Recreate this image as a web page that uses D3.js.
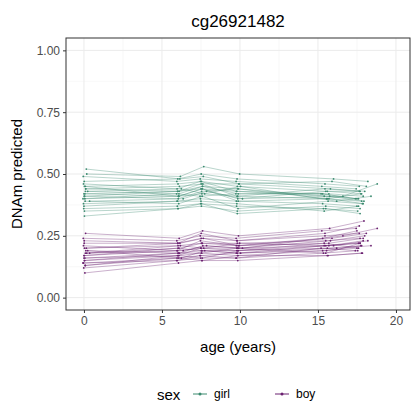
<!DOCTYPE html>
<html lang="en">
<head>
<meta charset="utf-8">
<script src="https://cdnjs.cloudflare.com/ajax/libs/d3/7.8.5/d3.min.js"></script>
<style>
  body { margin: 0; background: #fff; }
  text { font-family: "Liberation Sans", Arial, sans-serif; }
</style>
</head>
<body>
<div id="chart"></div>
<script>
const W = 420, H = 420;
const visitAges = [0, 6, 7.5, 9.8, 15.4, 17.6];
// per-subject age offsets from the visit mean
const ageShift = [0, 0.1, -0.1, 0.2, 0.05, -0.05, 0.3, 0.15, -0.15, 0.25, 0.4, 0.1,
                  -0.1, 0.2, 0.6, 0.0, 0.35, -0.2, 0.5, 0.1, 0.8, 0.05, 0.3, 1.2];
const xTicks = [0, 5, 10, 15, 20];
const yTicks = [0, 0.25, 0.5, 0.75, 1];

const girls = [
  [0.42, 0.43, 0.44, 0.43, 0.41, 0.40], [0.45, 0.46, 0.47, 0.45, 0.43, 0.43],
  [0.38, 0.39, 0.40, 0.39, 0.38, 0.37], [0.40, 0.41, 0.42, 0.41, 0.40, 0.39],
  [0.47, 0.48, 0.50, 0.48, 0.46, 0.45], [0.36, 0.37, 0.38, 0.37, 0.36, 0.35],
  [0.43, 0.42, 0.45, 0.42, 0.42, 0.41], [0.41, 0.40, 0.43, 0.44, 0.40, 0.42],
  [0.49, 0.47, 0.48, 0.47, 0.45, 0.44], [0.39, 0.38, 0.41, 0.36, 0.39, 0.38],
  [0.44, 0.45, 0.46, 0.46, 0.44, 0.43], [0.35, 0.36, 0.37, 0.35, 0.37, 0.36],
  [0.46, 0.44, 0.47, 0.43, 0.42, 0.40], [0.42, 0.41, 0.44, 0.40, 0.43, 0.42],
  [0.50, 0.49, 0.53, 0.50, 0.48, 0.47], [0.37, 0.39, 0.39, 0.38, 0.35, 0.37],
  [0.44, 0.43, 0.45, 0.44, 0.41, 0.39], [0.40, 0.42, 0.41, 0.42, 0.42, 0.40],
  [0.52, 0.48, 0.49, 0.46, 0.47, 0.45], [0.33, 0.36, 0.38, 0.34, 0.36, 0.34],
  [0.43, 0.44, 0.42, 0.45, 0.39, 0.41], [0.41, 0.43, 0.46, 0.41, 0.44, 0.43],
  [0.45, 0.41, 0.44, 0.39, 0.40, 0.38], [0.39, 0.40, 0.43, 0.40, 0.41, 0.46]
];
const boys = [
  [0.17, 0.19, 0.20, 0.20, 0.21, 0.22], [0.20, 0.21, 0.22, 0.22, 0.23, 0.24],
  [0.14, 0.16, 0.17, 0.18, 0.19, 0.20], [0.16, 0.18, 0.19, 0.19, 0.20, 0.21],
  [0.22, 0.22, 0.24, 0.23, 0.25, 0.26], [0.12, 0.15, 0.16, 0.16, 0.18, 0.19],
  [0.18, 0.20, 0.22, 0.21, 0.22, 0.24], [0.15, 0.17, 0.18, 0.17, 0.19, 0.21],
  [0.24, 0.23, 0.25, 0.24, 0.27, 0.28], [0.13, 0.16, 0.15, 0.17, 0.17, 0.18],
  [0.19, 0.18, 0.21, 0.20, 0.23, 0.25], [0.17, 0.20, 0.19, 0.18, 0.21, 0.22],
  [0.21, 0.19, 0.23, 0.21, 0.24, 0.27], [0.10, 0.14, 0.15, 0.15, 0.17, 0.18],
  [0.18, 0.21, 0.20, 0.22, 0.21, 0.23], [0.16, 0.17, 0.20, 0.19, 0.22, 0.20],
  [0.26, 0.24, 0.27, 0.25, 0.28, 0.31], [0.14, 0.15, 0.17, 0.16, 0.20, 0.19],
  [0.20, 0.22, 0.24, 0.21, 0.24, 0.26], [0.15, 0.18, 0.18, 0.20, 0.18, 0.22],
  [0.19, 0.16, 0.19, 0.18, 0.20, 0.21], [0.23, 0.22, 0.26, 0.23, 0.26, 0.29],
  [0.13, 0.17, 0.16, 0.19, 0.21, 0.23], [0.18, 0.19, 0.21, 0.20, 0.25, 0.28]
];
const series = [
  { name: "girl", color: "#3a8a6f", rows: girls },
  { name: "boy", color: "#6b2170", rows: boys }
];

const margin = { left: 66, right: 10, top: 38, bottom: 110 };
const svg = d3.select("#chart").append("svg").attr("width", W).attr("height", H);

const x = d3.scaleLinear().domain([-1.15, 20.9]).range([margin.left, W - margin.right]);
const y = d3.scaleLinear().domain([-0.05, 1.05]).range([H - margin.bottom, margin.top]);

// grid
const grid = svg.append("g");
const minorX = [2.5, 7.5, 12.5, 17.5], minorY = [0.125, 0.375, 0.625, 0.875];
grid.selectAll(".mx").data(minorX).enter().append("line")
  .attr("x1", d => x(d)).attr("x2", d => x(d)).attr("y1", y.range()[0]).attr("y2", y.range()[1])
  .attr("stroke", "#f0f0f0").attr("stroke-width", 0.5);
grid.selectAll(".my").data(minorY).enter().append("line")
  .attr("y1", d => y(d)).attr("y2", d => y(d)).attr("x1", x.range()[0]).attr("x2", x.range()[1])
  .attr("stroke", "#f0f0f0").attr("stroke-width", 0.5);
grid.selectAll(".gx").data(xTicks).enter().append("line")
  .attr("x1", d => x(d)).attr("x2", d => x(d)).attr("y1", y.range()[0]).attr("y2", y.range()[1])
  .attr("stroke", "#ebebeb").attr("stroke-width", 1);
grid.selectAll(".gy").data(yTicks).enter().append("line")
  .attr("y1", d => y(d)).attr("y2", d => y(d)).attr("x1", x.range()[0]).attr("x2", x.range()[1])
  .attr("stroke", "#ebebeb").attr("stroke-width", 1);

const line = d3.line().x(d => x(d[0])).y(d => y(d[1]));
series.forEach(s => {
  const pts = s.rows.map((r, i) => r.map((v, j) => [visitAges[j] + (j >= 4 ? ageShift[i] : ageShift[i] * 0.3), v]));
  svg.append("g").selectAll("path").data(pts).enter().append("path")
    .attr("d", line).attr("fill", "none").attr("stroke", s.color)
    .attr("stroke-width", 0.8).attr("stroke-opacity", 0.45);
  svg.append("g").selectAll("circle").data(pts.flat()).enter().append("circle")
    .attr("cx", d => x(d[0])).attr("cy", d => y(d[1])).attr("r", 0.9).attr("fill", s.color);
});

// border
svg.append("rect").attr("x", x.range()[0]).attr("y", y.range()[1])
  .attr("width", x.range()[1] - x.range()[0]).attr("height", y.range()[0] - y.range()[1])
  .attr("fill", "none").attr("stroke", "#333").attr("stroke-width", 1);

const xAxis = svg.append("g").attr("transform", `translate(0,${y.range()[0]})`)
  .call(d3.axisBottom(x).tickValues(xTicks).tickSize(3).tickPadding(3));
const yAxis = svg.append("g").attr("transform", `translate(${x.range()[0]},0)`)
  .call(d3.axisLeft(y).tickValues(yTicks).tickFormat(d3.format(".2f")).tickSize(3).tickPadding(3));
[xAxis, yAxis].forEach(a => {
  a.select(".domain").remove();
  a.selectAll("line").attr("stroke", "#333");
  a.selectAll("text").attr("fill", "#4d4d4d").style("font-size", "12px");
});

svg.append("text").attr("x", (x.range()[0] + x.range()[1]) / 2).attr("y", 27)
  .attr("text-anchor", "middle").style("font-size", "17px").text("cg26921482");
svg.append("text").attr("x", (x.range()[0] + x.range()[1]) / 2).attr("y", 352)
  .attr("text-anchor", "middle").style("font-size", "15px").text("age (years)");
svg.append("text").attr("transform", `translate(22,${(y.range()[0] + y.range()[1]) / 2}) rotate(-90)`)
  .attr("text-anchor", "middle").style("font-size", "15px").text("DNAm predicted");

// legend
const leg = svg.append("g").attr("transform", "translate(0,394)");
leg.append("text").attr("x", 157).attr("y", 6).style("font-size", "15px").text("sex");
series.forEach((s, i) => {
  const lx = 193 + i * 82;
  leg.append("line").attr("x1", lx).attr("x2", lx + 14).attr("y1", 0).attr("y2", 0)
    .attr("stroke", s.color).attr("stroke-width", 1);
  leg.append("circle").attr("cx", lx + 7).attr("cy", 0).attr("r", 1.5).attr("fill", s.color);
  leg.append("text").attr("x", lx + 21).attr("y", 4).style("font-size", "12px").text(s.name);
});
</script>
</body>
</html>
